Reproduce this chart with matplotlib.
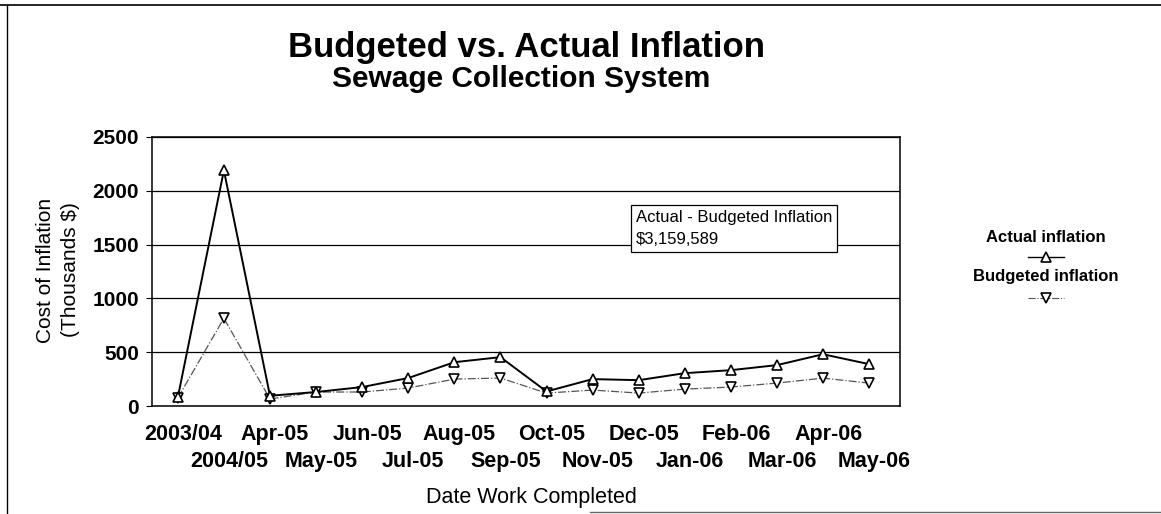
import matplotlib
matplotlib.use("Agg")
import matplotlib.pyplot as plt
import matplotlib.transforms as mtransforms
from matplotlib.lines import Line2D

plt.rcParams["font.family"] = ["Liberation Sans", "DejaVu Sans"]

# data (thousands of $)
categories = ["2003/04", "2004/05", "Apr-05", "May-05", "Jun-05", "Jul-05",
              "Aug-05", "Sep-05", "Oct-05", "Nov-05", "Dec-05", "Jan-06",
              "Feb-06", "Mar-06", "Apr-06", "May-06"]
actual = [80, 2190, 95, 130, 176, 260, 407, 454, 135, 250, 240, 305,
          333, 380, 481, 389]
budgeted = [75, 815, 65, 130, 130, 167, 250, 260, 120, 148, 120, 157,
            176, 213, 259, 213]
y_ticks = [0, 500, 1000, 1500, 2000, 2500]

W, H = 1161, 514
fig = plt.figure(figsize=(W / 100, H / 100), dpi=100)
ax = fig.add_axes([152 / W, 1 - 406 / H, 748 / W, 269 / H])

x = list(range(len(categories)))
ax.plot(x, actual, color="black", linewidth=1.4, marker="^", markersize=7,
        markerfacecolor="white", markeredgecolor="black", markeredgewidth=1.2,
        label="Actual inflation", zorder=4)
ax.plot(x, budgeted, color="#555555", linewidth=0.9, linestyle="-.",
        marker="v", markersize=7, markerfacecolor="white",
        markeredgecolor="black", markeredgewidth=1.2,
        label="Budgeted inflation", zorder=3)

ax.set_ylim(0, 2500)
ax.set_xlim(-0.56, 15.67)
ax.set_yticks(y_ticks)
ax.set_yticklabels([str(v) for v in y_ticks], fontsize=15, fontweight="bold")
ax.yaxis.grid(True, color="black", linewidth=0.9)
ax.set_axisbelow(True)
ax.tick_params(axis="y", length=4, width=0.8, pad=5.5)
ax.tick_params(axis="x", length=0)
for s in ax.spines.values():
    s.set_linewidth(1.1)

# two-row alternating category labels
ax.set_xticks(x)
ax.set_xticklabels([""] * len(x))
shift = mtransforms.offset_copy(ax.get_xaxis_transform(), fig=fig,
                                x=5, y=0, units="dots")
for i, lab in enumerate(categories):
    ypix = 434.5 if i % 2 == 0 else 461.5
    ax.text(i, -(ypix - 406) / 269, lab, transform=shift, ha="center",
            va="center", fontsize=15.5, fontweight="bold")

fig.text(531 / W, 1 - 503 / H, "Date Work Completed", ha="center",
         va="baseline", fontsize=15.5)
fig.text(58 / W, 1 - 270 / H, "Cost of Inflation\n(Thousands $)",
         rotation=90, ha="center", va="center", fontsize=15,
         linespacing=1.45)

fig.text(526 / W, 1 - 57 / H, "Budgeted vs. Actual Inflation",
         ha="center", va="baseline", fontsize=25, fontweight="bold")
fig.text(521 / W, 1 - 87 / H, "Sewage Collection System",
         ha="center", va="baseline", fontsize=21.5, fontweight="bold")

# difference annotation
ax.text(9.94, 1650, "Actual - Budgeted Inflation\n$3,159,589",
        ha="left", va="center", fontsize=12, linespacing=1.55, zorder=6,
        bbox=dict(boxstyle="square,pad=0.3", facecolor="white",
                  edgecolor="black", linewidth=0.9))

# legend, stacked label above sample
lx = 1046 / W
fig.text(lx, 1 - 237 / H, "Actual inflation", ha="center", va="center",
         fontsize=12, fontweight="bold")
fig.text(lx, 1 - 277 / H, "Budgeted inflation", ha="center", va="center",
         fontsize=12, fontweight="bold")
fig.add_artist(Line2D([lx - 18 / W, lx + 18 / W], [1 - 257 / H] * 2,
                      color="black", linewidth=1.0,
                      transform=fig.transFigure))
fig.add_artist(Line2D([lx], [1 - 257 / H], marker="^", markersize=7,
                      markerfacecolor="white", markeredgecolor="black",
                      markeredgewidth=1.2, transform=fig.transFigure))
fig.add_artist(Line2D([lx - 18 / W, lx + 18 / W], [1 - 298 / H] * 2,
                      color="#555555", linewidth=0.8, linestyle="-.",
                      transform=fig.transFigure))
fig.add_artist(Line2D([lx], [1 - 298 / H], marker="v", markersize=7,
                      markerfacecolor="white", markeredgecolor="black",
                      markeredgewidth=1.2, transform=fig.transFigure))

# page frame edges
fig.add_artist(Line2D([0, 1], [1 - 5 / H] * 2, color="black", linewidth=1.2,
                      transform=fig.transFigure))
fig.add_artist(Line2D([7 / W] * 2, [0, 1 - 5 / H], color="black",
                      linewidth=1.0, transform=fig.transFigure))
fig.add_artist(Line2D([590 / W, 1], [1 - 512 / H] * 2, color="#666666",
                      linewidth=1.0, transform=fig.transFigure))

fig.savefig("out.png", dpi=100)
